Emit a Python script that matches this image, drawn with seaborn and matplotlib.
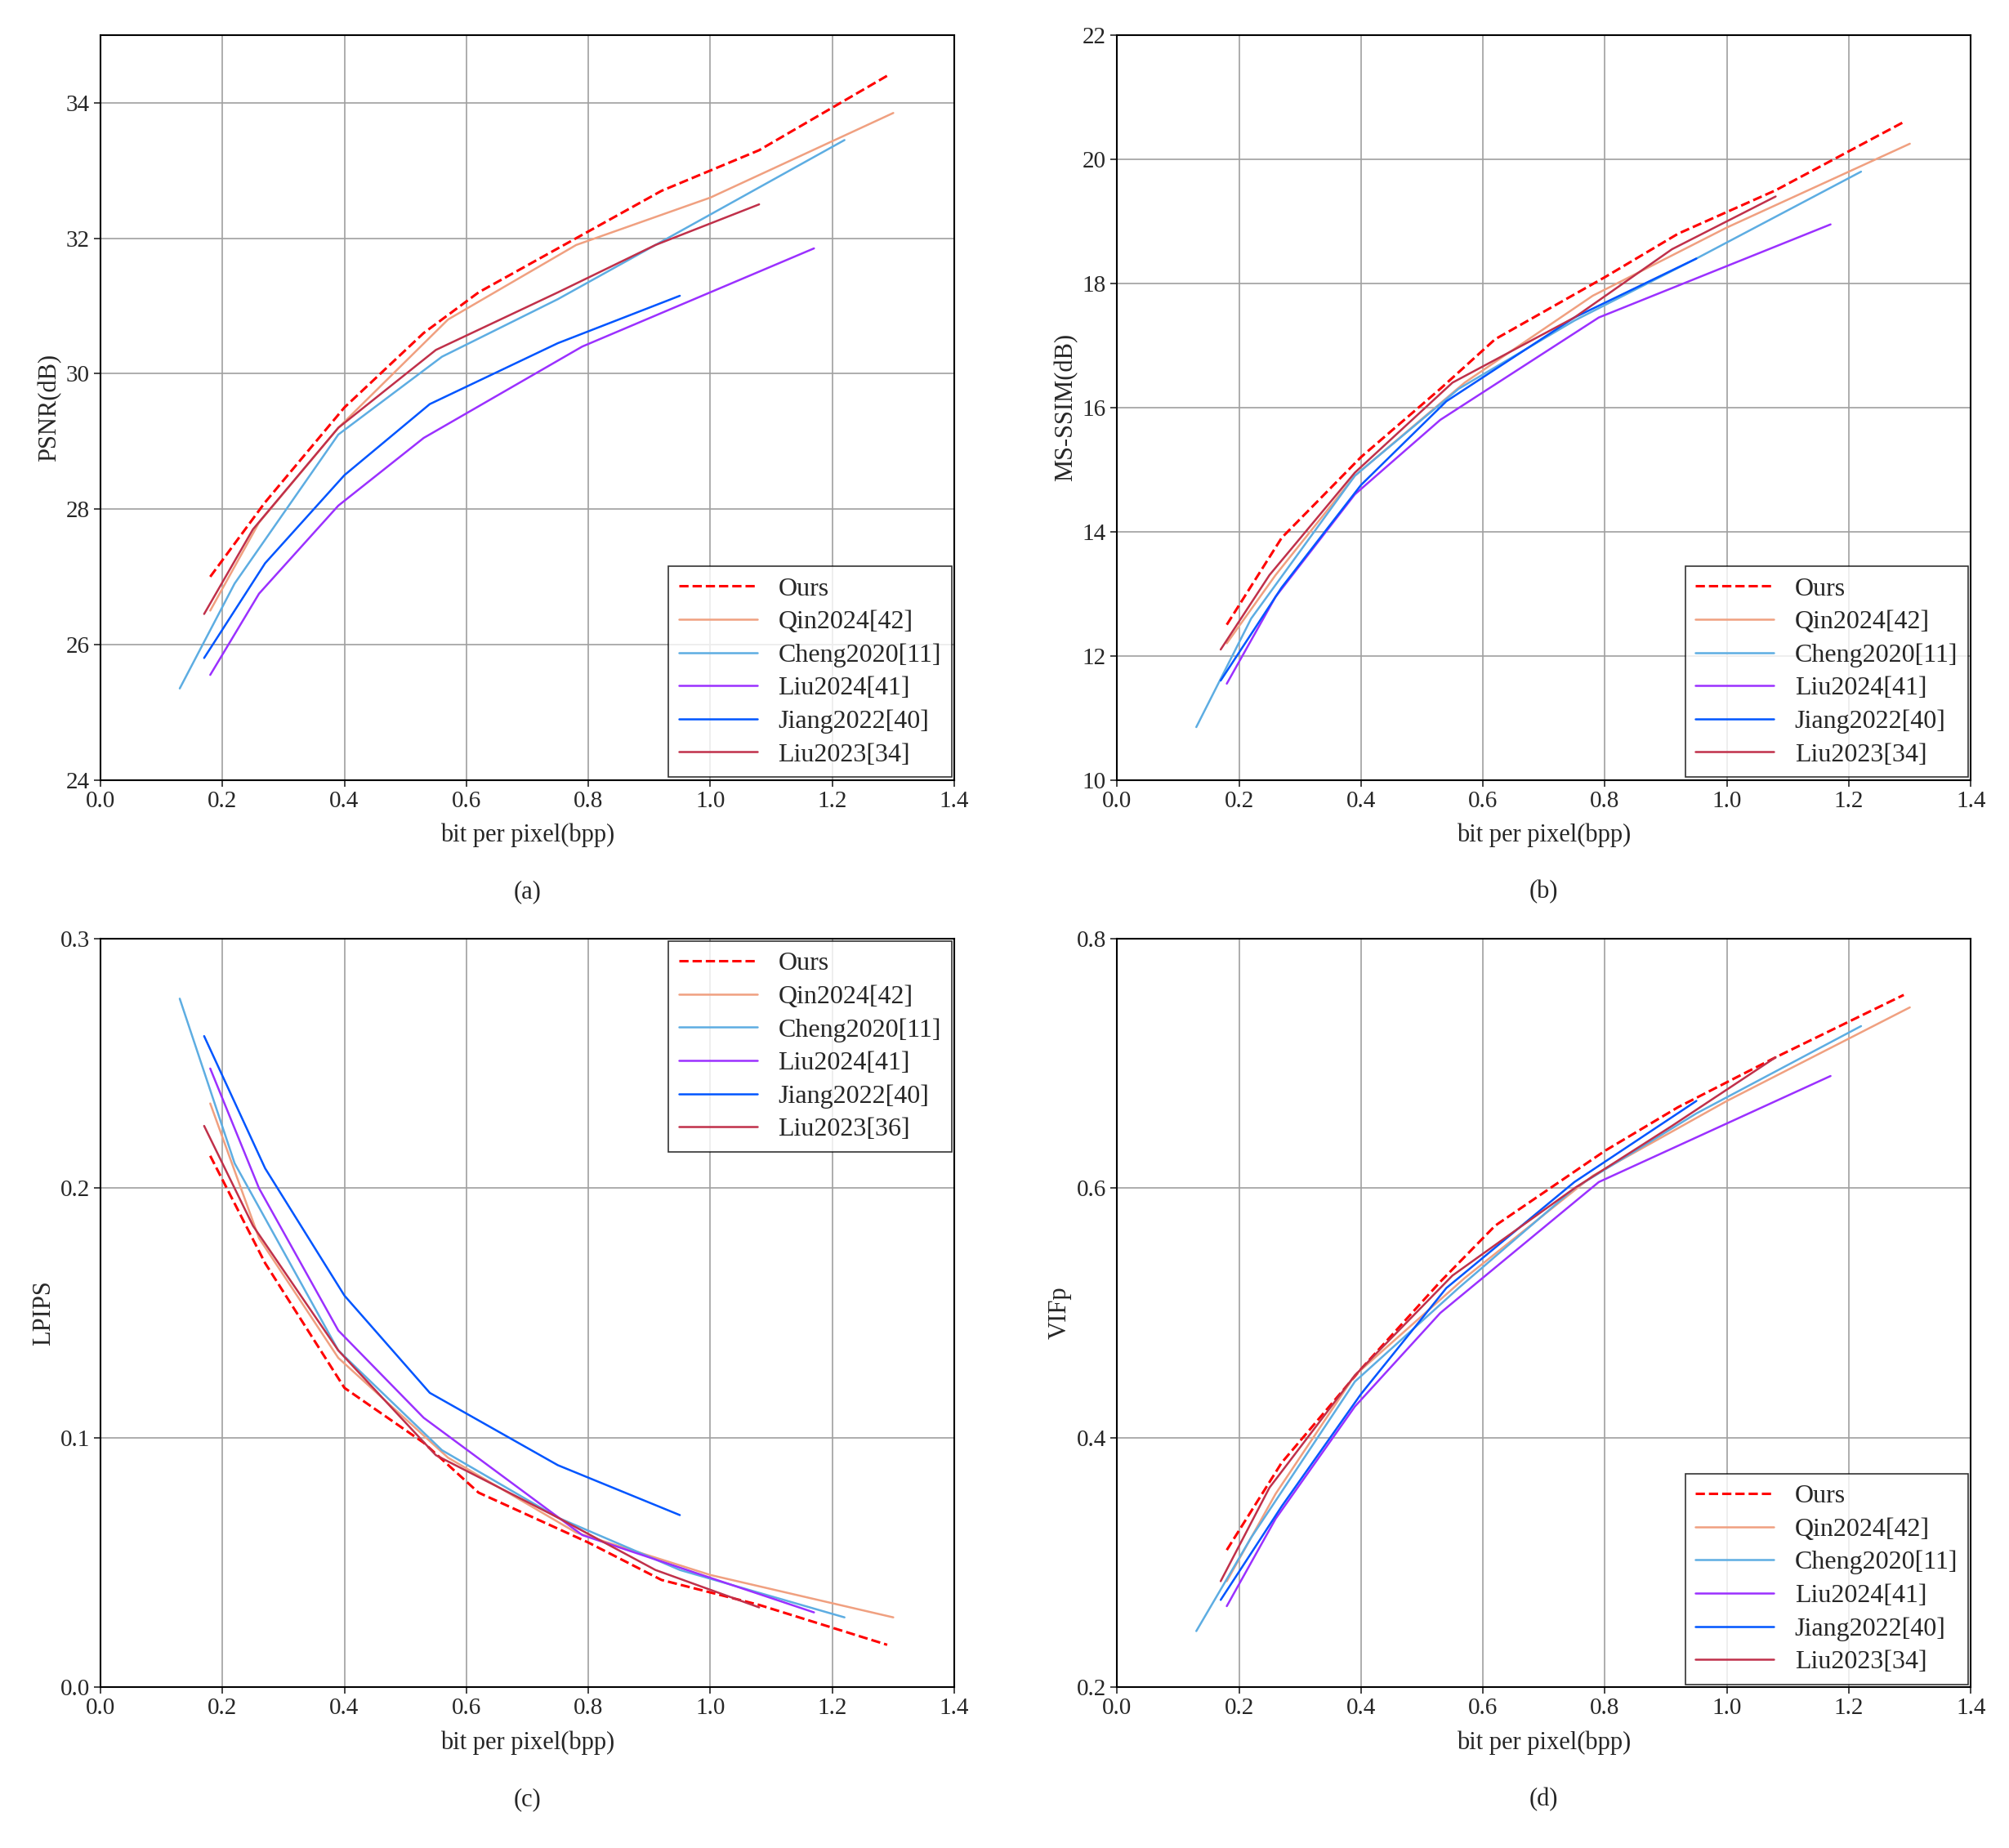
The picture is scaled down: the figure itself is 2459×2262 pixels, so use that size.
import matplotlib
matplotlib.use("Agg")
import numpy as np
import pandas as pd
import seaborn as sns
from matplotlib import pyplot as plt

sns.set_style("white")
plt.rcParams["font.family"] = "Liberation Serif"

methods = ["Ours", "Qin2024[42]", "Cheng2020[11]", "Liu2024[41]", "Jiang2022[40]", "Liu2023[34]"]
colors = ["#FF0000", "#F0A080", "#5DADE2", "#9B30FF", "#0055FF", "#C0304A"]

bpp_ours = [0.18, 0.27, 0.40, 0.53, 0.62, 0.80, 0.92, 1.08, 1.29]
bpp_qin = [0.18, 0.26, 0.39, 0.57, 0.78, 1.00, 1.30]
bpp_cheng = [0.13, 0.22, 0.39, 0.56, 0.75, 0.95, 1.22]
bpp_liu24 = [0.18, 0.26, 0.39, 0.53, 0.79, 1.17]
bpp_jiang = [0.17, 0.27, 0.40, 0.54, 0.75, 0.95]
bpp_liu23 = [0.17, 0.25, 0.39, 0.55, 0.75, 0.91, 1.08]
bpps = [bpp_ours, bpp_qin, bpp_cheng, bpp_liu24, bpp_jiang, bpp_liu23]

psnr = [
    [27.0, 28.1, 29.5, 30.6, 31.2, 32.1, 32.7, 33.3, 34.4],
    [26.5, 27.8, 29.2, 30.8, 31.9, 32.6, 33.85],
    [25.35, 26.9, 29.1, 30.25, 31.1, 32.1, 33.45],
    [25.55, 26.75, 28.05, 29.05, 30.4, 31.85],
    [25.8, 27.2, 28.5, 29.55, 30.45, 31.15],
    [26.45, 27.7, 29.2, 30.35, 31.2, 31.9, 32.5],
]
msssim = [
    [12.5, 13.9, 15.2, 16.3, 17.1, 18.1, 18.8, 19.5, 20.6],
    [12.2, 13.3, 14.9, 16.4, 17.8, 18.9, 20.25],
    [10.85, 12.6, 14.9, 16.3, 17.4, 18.4, 19.8],
    [11.55, 12.95, 14.6, 15.8, 17.45, 18.95],
    [11.6, 13.1, 14.75, 16.1, 17.45, 18.4],
    [12.1, 13.3, 14.95, 16.4, 17.45, 18.55, 19.4],
]
lpips = [
    [0.213, 0.17, 0.12, 0.098, 0.078, 0.058, 0.043, 0.033, 0.017],
    [0.234, 0.18, 0.132, 0.092, 0.062, 0.045, 0.028],
    [0.276, 0.21, 0.135, 0.095, 0.068, 0.047, 0.028],
    [0.248, 0.2, 0.143, 0.108, 0.061, 0.03],
    [0.261, 0.208, 0.157, 0.118, 0.089, 0.069],
    [0.225, 0.185, 0.135, 0.093, 0.068, 0.047, 0.032],
]
vifp = [
    [0.31, 0.38, 0.455, 0.525, 0.57, 0.63, 0.665, 0.705, 0.755],
    [0.285, 0.355, 0.45, 0.528, 0.61, 0.67, 0.745],
    [0.245, 0.32, 0.445, 0.52, 0.6, 0.66, 0.73],
    [0.265, 0.335, 0.425, 0.5, 0.605, 0.69],
    [0.27, 0.345, 0.435, 0.52, 0.605, 0.67],
    [0.285, 0.36, 0.45, 0.53, 0.6, 0.65, 0.705],
]

panels = [
    ("PSNR(dB)", psnr, (24, 35), np.arange(24, 35, 2), "(a)", methods, [0.050, 0.578, 0.425, 0.403]),
    ("MS-SSIM(dB)", msssim, (10, 22), np.arange(10, 23, 2), "(b)", methods, [0.556, 0.578, 0.425, 0.403]),
    ("LPIPS", lpips, (0, 0.3), [0, 0.1, 0.2, 0.3], "(c)", methods[:5] + ["Liu2023[36]"], [0.050, 0.087, 0.425, 0.405]),
    ("VIFp", vifp, (0.2, 0.8), [0.2, 0.4, 0.6, 0.8], "(d)", methods, [0.556, 0.087, 0.425, 0.405]),
]

fig = plt.figure(figsize=(24.59, 22.62), dpi=100)
for ylabel, data, ylim, yticks, cap, labels, rect in panels:
    ax = fig.add_axes(rect)
    for i in range(6):
        df = pd.DataFrame({"bpp": bpps[i], "v": data[i]})
        sns.lineplot(data=df, x="bpp", y="v", ax=ax, color=colors[i], label=labels[i],
                     linestyle="--" if i == 0 else "-", linewidth=2.2 if i == 0 else 1.8)
    ax.set_xlim(0, 1.4)
    ax.set_ylim(*ylim)
    ax.set_xticks(np.arange(0, 1.41, 0.2))
    ax.set_xticklabels([f"{t:.1f}" for t in np.arange(0, 1.41, 0.2)])
    ax.set_yticks(yticks)
    if ylabel == "LPIPS" or ylabel == "VIFp":
        ax.set_yticklabels([f"{t:.1f}" for t in yticks])
    ax.grid(True, color="#a0a0a0", linewidth=1.2)
    for s in ax.spines.values():
        s.set_color("black")
        s.set_linewidth(1.5)
    ax.tick_params(labelsize=21, direction="out", length=6, width=1.2, left=True, bottom=True)
    ax.set_xlabel("bit per pixel(bpp)", fontsize=22, labelpad=10)
    ax.set_ylabel(ylabel, fontsize=22)
    loc = "upper right" if ylabel == "LPIPS" else "lower right"
    leg = ax.legend(loc=loc, fontsize=23, frameon=True, fancybox=False, edgecolor="black",
                    handlelength=3, borderaxespad=0.1, labelspacing=0.35)
    leg.get_frame().set_linewidth(1.2)
    fig.text(rect[0] + rect[2] / 2, rect[1] - 0.064, cap, ha="center", fontsize=22)

fig.savefig("out.png", dpi=100)
